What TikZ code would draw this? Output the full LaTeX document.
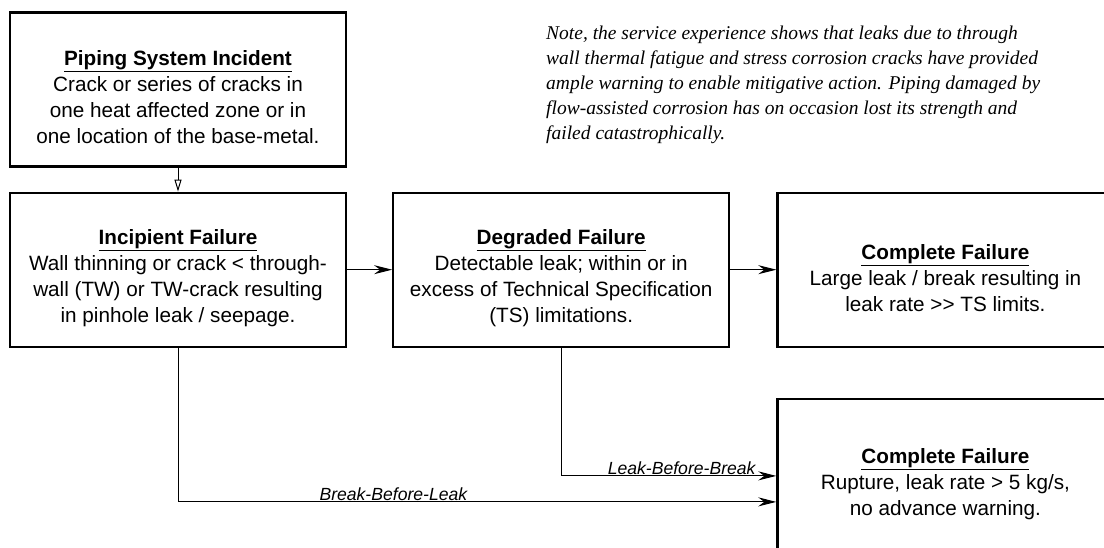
\documentclass[tikz,border=0pt]{standalone}
\usepackage{fontspec}
\setmainfont{Liberation Sans}
\newfontfamily\notefont{Liberation Serif}
\usetikzlibrary{arrows.meta,positioning}
\newcommand{\failhead}[1]{\rule{0pt}{31pt}\underline{\textbf{#1}}}

\begin{document}
\begin{tikzpicture}[x=1pt, y=1pt, node distance=24pt,
	box/.style={rectangle, draw, line width=2.2pt, minimum width=336pt, minimum height=154pt, inner sep=0pt, align=center, font=\fontsize{20.7}{26}\selectfont},
	link/.style={-{Stealth[length=18pt, width=9pt, inset=6pt]}, line width=1pt},
	tag/.style={font=\fontsize{17.6}{20}\selectfont\itshape, inner sep=0.5pt}]
	\useasboundingbox (0,0) rectangle (1104,548);
	\clip (0,0) rectangle (1104,548);

	\node[box] (incident) at (178,458.5) {\failhead{Piping System Incident}\\Crack or series of cracks in\\one heat affected zone or in\\one location of the base-metal.};
	\node[box, below = of incident] (incipient) {\failhead{Incipient Failure}\\Wall thinning or crack < through-\\wall (TW) or TW-crack resulting\\in pinhole leak / seepage.};
	\node[box, right = 45pt of incipient] (degraded) {\failhead{Degraded Failure}\\Detectable leak; within or in\\excess of Technical Specification\\(TS) limitations.};
	\node[box, right = 46pt of degraded] (complete) {\failhead{Complete Failure}\\Large leak / break resulting in\\leak rate >{}> TS limits.};
	\node[box, below = 50pt of complete] (rupture) {\failhead{Complete Failure}\\Rupture, leak rate > 5 kg/s,\\no advance warning.};
	\node[anchor=north west, align=left, inner sep=0pt, font=\notefont\itshape\fontsize{19.5}{25}\selectfont] (note) at (546,522) {Note, the service experience shows that leaks due to through\\wall thermal fatigue and stress corrosion cracks have provided\\ample warning to enable mitigative action. Piping damaged by\\flow-assisted corrosion has on occasion lost its strength and\\failed catastrophically.};

	\draw[-{Triangle[open, length=12pt, width=7pt]}, line width=1pt] (incident) -- (incipient);
	\draw[link] (incipient) -- (degraded);
	\draw[link] (degraded) -- (complete);
	\draw[link] (degraded.south) |- node[tag, above, pos=0.78] {Leak-Before-Break} (rupture.west);
	\draw[link] (incipient.south) |- node[tag, above, pos=0.68] {Break-Before-Leak} ([yshift=-26pt]rupture.west);
\end{tikzpicture}
\end{document}
